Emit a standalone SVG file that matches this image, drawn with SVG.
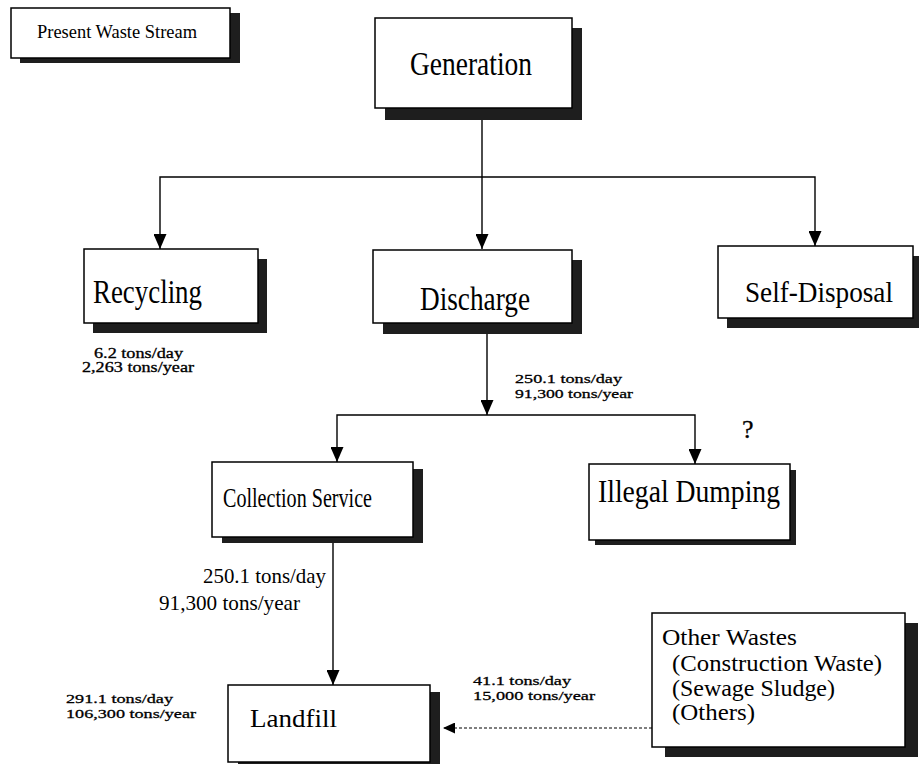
<svg xmlns="http://www.w3.org/2000/svg" width="919" height="764" viewBox="0 0 919 764">
<style>
.box{fill:#fff;stroke:#000;stroke-width:1.5}
.sh{fill:#1e1e1e}
.t{font-family:"Liberation Serif","Times New Roman",serif;fill:#000}
.s{stroke:#000;stroke-width:0.3}
.c{fill:none;stroke:#000;stroke-width:1.4}
.d{fill:none;stroke:#000;stroke-width:1.2;stroke-dasharray:3 2}
</style>
<defs>
<marker id="ah" viewBox="0 0 15 13" refX="15" refY="6.5" markerWidth="15" markerHeight="13" markerUnits="userSpaceOnUse" orient="auto">
<path d="M0,0 L15,6.5 L0,13 z" fill="#000"/>
</marker>
<marker id="ahs" viewBox="0 0 12 11" refX="12" refY="5.5" markerWidth="12" markerHeight="11" markerUnits="userSpaceOnUse" orient="auto">
<path d="M0,0 L12,5.5 L0,11 z" fill="#000"/>
</marker>
</defs>
<rect width="919" height="764" fill="#fff"/>

<g id="present-waste-stream">
<rect class="sh" x="20" y="13" width="220" height="50"/>
<rect class="box" x="11" y="8" width="219" height="50"/>
<text class="t" x="37" y="38" font-size="18" textLength="160" lengthAdjust="spacingAndGlyphs">Present Waste Stream</text>
</g>

<g id="generation">
<rect class="sh" x="385" y="28" width="197" height="92"/>
<rect class="box" x="375" y="18" width="197" height="90"/>
<text class="t" x="410" y="75" font-size="34" textLength="122" lengthAdjust="spacingAndGlyphs">Generation</text>
</g>

<g id="recycling">
<rect class="sh" x="93" y="259" width="174" height="74"/>
<rect class="box" x="84" y="249" width="174" height="74"/>
<text class="t" x="93" y="303" font-size="34" textLength="109" lengthAdjust="spacingAndGlyphs">Recycling</text>
</g>

<g id="discharge">
<rect class="sh" x="383" y="260" width="199" height="74"/>
<rect class="box" x="373" y="250" width="199" height="73"/>
<text class="t" x="420" y="310" font-size="34" textLength="110" lengthAdjust="spacingAndGlyphs">Discharge</text>
</g>

<g id="self-disposal">
<rect class="sh" x="727" y="256" width="192" height="72"/>
<rect class="box" x="718" y="246" width="195" height="72"/>
<text class="t" x="745" y="302" font-size="30" textLength="148" lengthAdjust="spacingAndGlyphs">Self-Disposal</text>
</g>

<g id="collection-service">
<rect class="sh" x="222" y="469" width="201" height="74"/>
<rect class="box" x="212" y="462" width="201" height="75"/>
<text class="t" x="223" y="507" font-size="27" textLength="149" lengthAdjust="spacingAndGlyphs">Collection Service</text>
</g>

<g id="illegal-dumping">
<rect class="sh" x="595" y="470" width="201" height="75"/>
<rect class="box" x="589" y="464" width="201" height="76"/>
<text class="t" x="598" y="502" font-size="31" textLength="182" lengthAdjust="spacingAndGlyphs">Illegal Dumping</text>
</g>

<g id="landfill">
<rect class="sh" x="238" y="692" width="202" height="72"/>
<rect class="box" x="228" y="685" width="202" height="77"/>
<text class="t" x="250" y="727" font-size="26" textLength="87" lengthAdjust="spacingAndGlyphs">Landfill</text>
</g>

<g id="other-wastes">
<rect class="sh" x="665" y="623" width="253" height="134"/>
<rect class="box" x="652" y="613" width="253" height="134"/>
<text class="t" x="662" y="645" font-size="23" textLength="135" lengthAdjust="spacingAndGlyphs">Other Wastes</text>
<text class="t" x="672" y="671" font-size="23" textLength="210" lengthAdjust="spacingAndGlyphs">(Construction Waste)</text>
<text class="t" x="672" y="696" font-size="23" textLength="163" lengthAdjust="spacingAndGlyphs">(Sewage Sludge)</text>
<text class="t" x="672" y="720" font-size="23" textLength="83" lengthAdjust="spacingAndGlyphs">(Others)</text>
</g>

<g id="connectors">
<path class="c" d="M482,120 V249" marker-end="url(#ah)"/>
<path class="c" d="M482,177 H160 V249" marker-end="url(#ah)"/>
<path class="c" d="M482,177 H815 V246" marker-end="url(#ah)"/>
<path class="c" d="M487,334 V415" marker-end="url(#ah)"/>
<path class="c" d="M487,415 H337 V462" marker-end="url(#ah)"/>
<path class="c" d="M487,415 H695 V464" marker-end="url(#ah)"/>
<path class="c" d="M333,543 V685" marker-end="url(#ah)"/>
<path class="d" d="M652,728 H443" marker-end="url(#ahs)"/>
</g>

<g id="labels">
<text class="t s" x="94" y="358" font-size="14" textLength="89" lengthAdjust="spacingAndGlyphs">6.2 tons/day</text>
<text class="t s" x="82" y="372" font-size="14" textLength="112" lengthAdjust="spacingAndGlyphs">2,263 tons/year</text>
<text class="t s" x="515" y="383" font-size="13.5" textLength="107" lengthAdjust="spacingAndGlyphs">250.1 tons/day</text>
<text class="t s" x="515" y="398" font-size="13.5" textLength="118" lengthAdjust="spacingAndGlyphs">91,300 tons/year</text>
<text class="t s" x="742" y="438" font-size="26">?</text>
<text class="t" x="203" y="583" font-size="22" textLength="123" lengthAdjust="spacingAndGlyphs">250.1 tons/day</text>
<text class="t" x="159" y="610" font-size="22" textLength="141" lengthAdjust="spacingAndGlyphs">91,300 tons/year</text>
<text class="t s" x="473" y="685" font-size="13.5" textLength="98" lengthAdjust="spacingAndGlyphs">41.1 tons/day</text>
<text class="t s" x="473" y="700" font-size="13.5" textLength="122" lengthAdjust="spacingAndGlyphs">15,000 tons/year</text>
<text class="t s" x="66" y="703" font-size="13.5" textLength="107" lengthAdjust="spacingAndGlyphs">291.1 tons/day</text>
<text class="t s" x="66" y="718" font-size="13.5" textLength="130" lengthAdjust="spacingAndGlyphs">106,300 tons/year</text>
</g>
</svg>
